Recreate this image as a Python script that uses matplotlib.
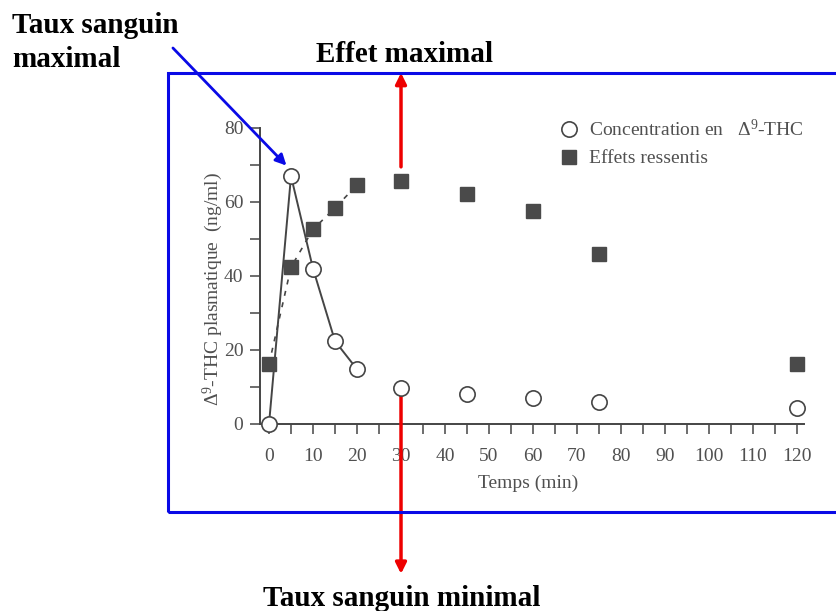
import matplotlib
matplotlib.use("Agg")
import matplotlib.pyplot as plt
from matplotlib.patches import Rectangle

plt.rcParams['font.family'] = ['Liberation Serif', 'DejaVu Serif']
plt.rcParams['mathtext.fontset'] = 'custom'
plt.rcParams['mathtext.rm'] = 'Liberation Serif'
plt.rcParams['mathtext.it'] = 'Liberation Serif:italic'

# Concentration en delta-9-THC (ng/ml)
conc_time = [0, 5, 10, 15, 20, 30, 45, 60, 75, 120]
conc = [0, 67, 42, 22.4, 14.8, 9.7, 8.1, 6.9, 5.9, 4.3]

# Effets ressentis (meme echelle)
eff_time = [0, 5, 10, 15, 20, 30, 45, 60, 75, 120]
eff = [16.2, 42.4, 52.6, 58.4, 64.6, 65.7, 62.2, 57.6, 45.9, 16.2]

W, H = 837, 611
grey = '#454545'

fig = plt.figure(figsize=(W / 100, H / 100), dpi=100)
ax = fig.add_axes([260 / W, (H - 424) / H, 544 / W, 296 / H])

# line through the first points only
ax.plot(eff_time[:5], eff[:5], linestyle=(0, (3, 4)), color=grey, lw=1.2, zorder=2)
ax.plot(conc_time[:5], conc[:5], color=grey, lw=1.4, zorder=2)

ax.plot(eff_time, eff, 's', color='#4a4a4a', ms=9.5, clip_on=False, zorder=3,
        label='Effets ressentis')
ax.plot(conc_time, conc, 'o', mfc='white', mec=grey, mew=1.2, ms=11, clip_on=False,
        zorder=4, label='Concentration en   $\\Delta^9$-THC')

ax.set_xlim(-2.05, 121.6)
ax.set_ylim(0, 80)
ax.set_xticks(range(0, 121, 10))
ax.set_xticks(range(5, 121, 10), minor=True)
ax.set_yticks([0, 20, 40, 60, 80])
ax.set_yticks([10, 30, 50, 70], minor=True)
ax.tick_params(which='both', direction='out', colors=grey, labelcolor='#505050',
               labelsize=14, width=1.1)
ax.tick_params(axis='x', which='both', length=7, pad=10)
ax.tick_params(axis='y', which='both', length=7, pad=5)
for s in ['top', 'right']:
    ax.spines[s].set_visible(False)
for s in ['left', 'bottom']:
    ax.spines[s].set_color(grey)
    ax.spines[s].set_linewidth(1.4)

ax.set_xlabel('Temps (min)', fontsize=14, color='#505050')
ax.xaxis.set_label_coords(0.493, -0.172)
ax.set_ylabel('$\\Delta^9$-THC plasmatique  (ng/ml)', fontsize=14, color='#505050')
ax.yaxis.set_label_coords(-0.064, 0.456)

h, l = ax.get_legend_handles_labels()
ax.legend(h[::-1], l[::-1], loc='upper left', bbox_to_anchor=(0.522, 1.09),
          frameon=False, fontsize=14, handlelength=0.8, handletextpad=0.6,
          labelspacing=0.5, labelcolor='#505050')

# blue frame
fig.add_artist(Rectangle((168 / W, (H - 512) / H), 700 / W, 439 / H,
                         transform=fig.transFigure, fill=False,
                         edgecolor='#0a0ae6', lw=2.2))

# annotations
ax.annotate('', xy=(4.4, 69.3), xytext=(171, H - 46), textcoords='figure pixels',
            arrowprops=dict(arrowstyle='-|>', color='#0a0ae6', lw=2, mutation_scale=16),
            annotation_clip=False)
ax.annotate('', xy=(30, 94.9), xytext=(30, 69.5),
            arrowprops=dict(arrowstyle='-|>', color='#ee0000', lw=2.5, mutation_scale=16,
                            shrinkA=0, shrinkB=0),
            annotation_clip=False)
ax.annotate('', xy=(30, -40.5), xytext=(30, 7.6),
            arrowprops=dict(arrowstyle='-|>', color='#ee0000', lw=2.5, mutation_scale=16,
                            shrinkA=0, shrinkB=0),
            annotation_clip=False)

fig.text(12 / W, 1 - 12 / H, 'Taux sanguin\nmaximal', ha='left', va='top',
         fontsize=21, fontweight='bold', linespacing=1.35)
fig.text(405 / W, 1 - 55 / H, 'Effet maximal', ha='center', va='center',
         fontsize=21, fontweight='bold')
fig.text(402 / W, 1 - 598 / H, 'Taux sanguin minimal', ha='center', va='center',
         fontsize=21, fontweight='bold')

fig.savefig('out.png', dpi=100)
